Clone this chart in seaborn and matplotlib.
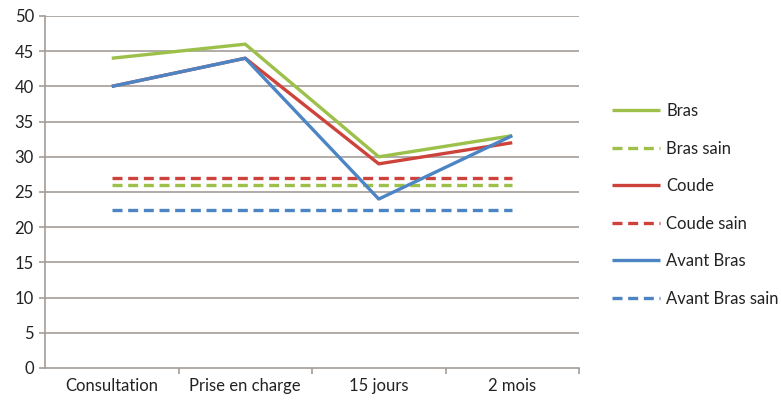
import matplotlib
matplotlib.use("Agg")
import matplotlib.pyplot as plt
import seaborn as sns
import pandas as pd

categories = ["Consultation", "Prise en charge", "15 jours", "2 mois"]
bras = [44, 46, 30, 33]
bras_sain = [26, 26, 26, 26]
coude = [40, 44, 29, 32]
coude_sain = [27, 27, 27, 27]
avant_bras = [40, 44, 24, 33]
avant_bras_sain = [22.5, 22.5, 22.5, 22.5]
y_ticks = [0, 5, 10, 15, 20, 25, 30, 35, 40, 45, 50]

GREEN = "#9cc04a"
RED = "#cd433b"
BLUE = "#4c84c4"
GRID = "#a39d98"

sns.set_theme(style="white")
plt.rcParams["font.family"] = ["Lato", "DejaVu Sans"]

fig = plt.figure(figsize=(7.81, 4.01), dpi=100)
ax = fig.add_axes([45/781, 1 - 368/401, (579 - 45)/781, (368 - 16)/401])

series = [
    ("Bras", bras, GREEN, "-"),
    ("Bras sain", bras_sain, GREEN, "--"),
    ("Coude", coude, RED, "-"),
    ("Coude sain", coude_sain, RED, "--"),
    ("Avant Bras", avant_bras, BLUE, "-"),
    ("Avant Bras sain", avant_bras_sain, BLUE, "--"),
]
lines = {}
for name, vals, col, ls in series:
    df = pd.DataFrame({"x": categories, "y": vals})
    sns.lineplot(data=df, x="x", y="y", ax=ax, color=col, linewidth=2.4,
                 sort=False, label=name, legend=False)
    ln = ax.lines[-1]
    if ls == "--":
        ln.set_dashes((3.0, 1.7))
    ln.set_solid_capstyle("butt")
    lines[name] = ln

ax.set_xlim(-0.5, 3.5)
ax.set_ylim(0, 50)
ax.set_yticks(y_ticks)
ax.set_yticklabels([str(t) for t in y_ticks])
ax.set_xticks(range(len(categories)))
ax.set_xticklabels(categories)
ax.set_xlabel("")
ax.set_ylabel("")
ax.grid(False)
for t in y_ticks[1:]:
    ax.axhline(t, color=GRID, linewidth=1.2, zorder=0)

for s in ["top", "right"]:
    ax.spines[s].set_visible(False)
for s in ["left", "bottom"]:
    ax.spines[s].set_color(GRID)
    ax.spines[s].set_linewidth(1.2)

ax.tick_params(axis="y", length=4, color=GRID, width=1.2, labelsize=12, pad=4,
               left=True, labelcolor="#222222")
ax.tick_params(axis="x", length=0, labelsize=12, pad=7, labelcolor="#222222")
ax.set_xticks([0.5, 1.5, 2.5, 3.5], minor=True)
ax.tick_params(axis="x", which="minor", length=4, color=GRID, width=1.2, bottom=True)

handles = [lines[s[0]] for s in series]
labels = [s[0] for s in series]
leg = fig.legend(handles, labels, loc="center left",
                 bbox_to_anchor=(612/781, 1 - 205/401), frameon=False,
                 fontsize=12, handlelength=2.9, handletextpad=0.35,
                 labelspacing=1.29, borderpad=0, borderaxespad=0)
for t in leg.get_texts():
    t.set_color("#222222")

fig.savefig("out.png", dpi=100)
